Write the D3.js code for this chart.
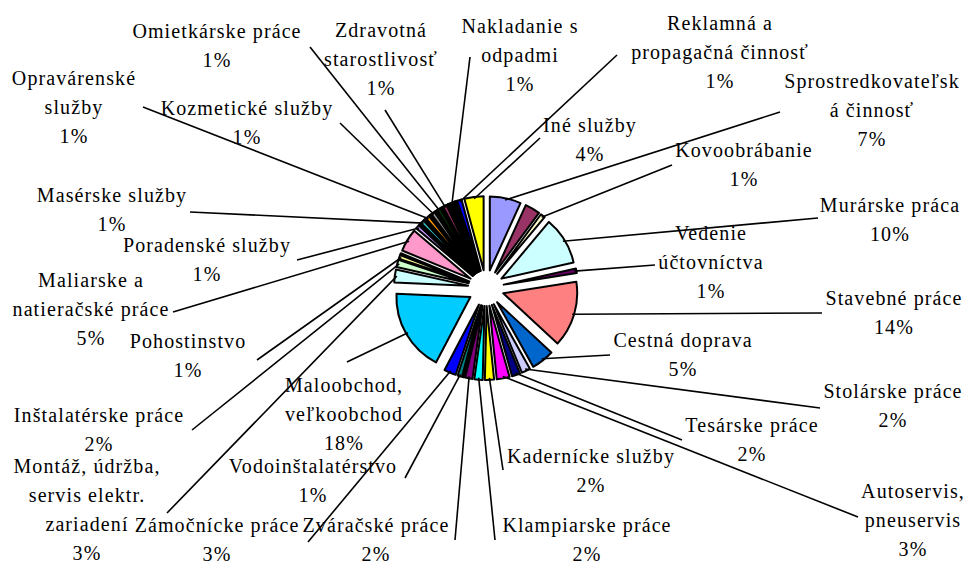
<!DOCTYPE html>
<html>
<head>
<meta charset="utf-8">
<script src="https://cdn.jsdelivr.net/npm/d3@7"></script>
<style>
body { margin: 0; background: #fff; }
</style>
</head>
<body>
<script>
// slices clockwise from 12 o'clock, "|" breaks a label line, "" = no label
var names = [
    "Sprostredkovateľsk|á činnosť", "", "Kovoobrábanie", "Murárske práca",
    "Vedenie|účtovníctva", "Stavebné práce", "Cestná doprava", "Stolárske práce",
    "Tesárske práce", "Autoservis,|pneuservis", "Kadernícke služby", "Klampiarske práce",
    "Zváračské práce", "", "Vodoinštalatérstvo", "Zámočnícke práce",
    "Maloobchod,|veľkoobchod", "Montáž, údržba,|servis elektr.|zariadení", "Inštalatérske práce", "Pohostinstvo",
    "", "Maliarske a|natieračské práce", "Poradenské služby", "",
    "", "Masérske služby", "", "",
    "Opravárenské|služby", "", "", "Kozmetické služby",
    "", "", "Omietkárske práce", "",
    "", "Zdravotná|starostlivosť", "", "",
    "Nakladanie s|odpadmi", "", "", "",
    "Reklamná a|propagačná činnosť", "Iné služby"
];
var values = [
    6.8, 3.3, 1.0, 10.4,
    1.0, 14.4, 5.0, 1.9,
    1.8, 2.8, 2.0, 1.8,
    1.6, 0.3, 1.0, 2.6,
    18.0, 2.8, 1.6, 0.8,
    0.3, 5.0, 0.8, 0.2,
    0.2, 0.8, 0.2, 0.2,
    0.8, 0.2, 0.2, 0.8,
    0.2, 0.2, 0.8, 0.2,
    0.2, 0.8, 0.2, 0.2,
    0.8, 0.2, 0.2, 0.2,
    1.0, 4.2
];
var colors = [
    "#9999FF", "#993366", "#FFFFCC", "#CCFFFF", "#660066", "#FF8080", "#0066CC", "#CCCCFF",
    "#000080", "#FF00FF", "#FFFF00", "#00FFFF", "#800080", "#800000", "#008080", "#0000FF",
    "#00CCFF", "#CCFFFF", "#CCFFCC", "#FFFF99", "#99CCFF", "#FF99CC", "#CC99FF", "#FFCC99",
    "#3366FF", "#33CCCC", "#99CC00", "#FFCC00", "#FF9900", "#FF6600", "#666699", "#969696",
    "#003366", "#339966", "#003300", "#333300", "#993300", "#993366", "#333399", "#333333",
    "#000000", "#FFFFFF", "#FF0000", "#00FF00", "#0000FF", "#FFFF00"
];

// where each label sits: slice index, text centre x, first baseline y, leader end x, y
var labelSpots = [
    [0, 872, 88, 780, 112], [2, 744, 157, 672, 165], [3, 890, 212, 818, 218],
    [4, 711, 240, 655, 265], [5, 894, 305, 822, 313], [6, 683, 347, 610, 355],
    [7, 893, 398, 820, 408], [8, 752, 432, 682, 440], [9, 913, 498, 858, 517],
    [10, 591, 463, 503, 470], [11, 587, 532, 495, 540], [12, 376, 532, 455, 540],
    [14, 313, 473, 405, 478], [15, 217, 532, 308, 542], [16, 344, 392, 347, 362],
    [17, 87, 473, 167, 513], [18, 99, 422, 192, 430], [19, 188, 348, 257, 360],
    [21, 91, 287, 173, 312], [22, 207, 252, 297, 260], [25, 112, 202, 190, 212],
    [28, 74, 85, 143, 107], [31, 247, 115, 340, 123], [34, 217, 38, 310, 47],
    [37, 381, 37, 385, 110], [40, 520, 33, 470, 57], [44, 720, 30, 617, 55],
    [45, 590, 132, 540, 138]
];

var W = 968, H = 564;
var cx = 486, cy = 288, R = 74, boom = 18, lineGap = 29;

var svg = d3.select('body').append('svg')
    .attr('width', W)
    .attr('height', H)
;

var total = d3.sum(values);
var pct = function(v){ return Math.round(v / total * 100) + '%'; };

var pie = d3.pie().sort(null).value(function(d){ return d; });
var arcs = pie(values);
var arc = d3.arc().innerRadius(0).outerRadius(R);

function mid(d){ return (d.startAngle + d.endAngle) / 2; }
function shift(d){
    var a = mid(d);
    return [Math.sin(a) * boom, -Math.cos(a) * boom];
}

var g = svg.append('g').attr('transform', 'translate(' + cx + ',' + cy + ')');

// leader lines first, under the slices
var leaders = svg.append('g');
labelSpots.forEach(function(s){
    var d = arcs[s[0]];
    var a = mid(d), o = shift(d);
    var px = cx + o[0] + Math.sin(a) * (R - 2);
    var py = cy + o[1] - Math.cos(a) * (R - 2);
    leaders.append('line')
        .attr('x1', px).attr('y1', py)
        .attr('x2', s[3]).attr('y2', s[4])
        .attr('stroke', 'black')
        .attr('stroke-width', 1.6);
});

g.selectAll('path')
    .data(arcs)
    .enter()
    .append('path')
    .attr('d', arc)
    .attr('transform', function(d){
        var o = shift(d);
        return 'translate(' + o[0] + ',' + o[1] + ')';
    })
    .attr('fill', function(d, i){ return colors[i]; })
    .attr('stroke', 'black')
    .attr('stroke-width', 2)
    .attr('stroke-linejoin', 'round');

var labels = svg.append('g')
    .attr('font-family', '"Liberation Serif", "Times New Roman", serif')
    .attr('font-size', 20)
    .attr('letter-spacing', 1.1)
    .attr('fill', 'black')
    .attr('text-anchor', 'middle');

labelSpots.forEach(function(s){
    var i = s[0];
    var lines = names[i].split('|').concat([pct(values[i])]);
    var t = labels.append('text').attr('x', s[1]).attr('y', s[2]);
    lines.forEach(function(l, k){
        t.append('tspan')
            .attr('x', s[1])
            .attr('dy', k === 0 ? 0 : lineGap)
            .text(l);
    });
});
</script>
</body>
</html>
